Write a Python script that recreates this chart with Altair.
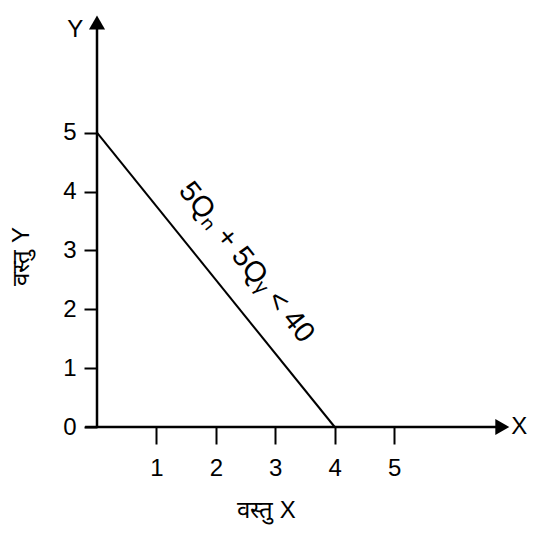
import altair as alt
import pandas as pd

# budget line end points
line_x = [0, 4]
line_y = [5, 0]
x_ticks = [1, 2, 3, 4, 5]
y_ticks = [0, 1, 2, 3, 4, 5]
line_label = "5Qₙ  +  5Qᵧ  <  40"
x_title = "वस्तु X"
y_title = "वस्तु Y"

FONT = "Liberation Sans"
XS = alt.Scale(domain=[0, 7], nice=False, zero=False)
YS = alt.Scale(domain=[0, 7.05], nice=False, zero=False)

line_df = pd.DataFrame({"x": line_x, "y": line_y})

base_axes = alt.Chart(pd.DataFrame({"x": [0], "y": [0]})).mark_point(opacity=0).encode(
    x=alt.X("x:Q", scale=XS,
            axis=alt.Axis(values=x_ticks, domain=False, grid=False, title=None,
                          tickSize=17, tickColor="black", tickWidth=2,
                          labelFont=FONT, labelFontSize=24, labelColor="black",
                          labelPadding=12, format="d")),
    y=alt.Y("y:Q", scale=YS,
            axis=alt.Axis(values=y_ticks, domain=False, grid=False, title=None,
                          tickSize=13, tickColor="black", tickWidth=2,
                          labelFont=FONT, labelFontSize=24, labelColor="black",
                          labelPadding=8, format="d")),
)

xaxis_line = alt.Chart(pd.DataFrame({"x": [-0.2], "x2": [6.8], "y": [0]})).mark_rule(
    color="black", strokeWidth=2.5).encode(
    x=alt.X("x:Q", scale=XS), x2="x2:Q", y=alt.Y("y:Q", scale=YS))
yaxis_line = alt.Chart(pd.DataFrame({"x": [0], "y": [0], "y2": [6.85]})).mark_rule(
    color="black", strokeWidth=2.5).encode(
    x=alt.X("x:Q", scale=XS), y=alt.Y("y:Q", scale=YS), y2="y2:Q")

arrow_x = alt.Chart(pd.DataFrame({"x": [6.82], "y": [0]})).mark_point(
    shape="triangle-right", filled=True, color="black", opacity=1, size=260).encode(
    x=alt.X("x:Q", scale=XS), y=alt.Y("y:Q", scale=YS))
arrow_y = alt.Chart(pd.DataFrame({"x": [0], "y": [6.87]})).mark_point(
    shape="triangle-up", filled=True, color="black", opacity=1, size=260).encode(
    x=alt.X("x:Q", scale=XS), y=alt.Y("y:Q", scale=YS))

budget = alt.Chart(line_df).mark_line(color="black", strokeWidth=2).encode(
    x=alt.X("x:Q", scale=XS), y=alt.Y("y:Q", scale=YS))

label = alt.Chart(pd.DataFrame({"x": [2.52], "y": [2.8], "t": [line_label]})).mark_text(
    angle=51, font=FONT, fontSize=29, color="black").encode(
    x=alt.X("x:Q", scale=XS), y=alt.Y("y:Q", scale=YS), text="t:N")

end_labels = alt.Chart(pd.DataFrame({"x": [6.97, -0.5], "y": [0, 6.75], "t": ["X", "Y"]})).mark_text(
    font=FONT, fontSize=24, color="black", align="left", baseline="middle").encode(
    x=alt.X("x:Q", scale=XS), y=alt.Y("y:Q", scale=YS), text="t:N")

xt = alt.Chart(pd.DataFrame({"x": [2.85], "y": [-1.42], "t": [x_title]})).mark_text(
    font=FONT, fontSize=24, color="black").encode(
    x=alt.X("x:Q", scale=XS), y=alt.Y("y:Q", scale=YS), text="t:N")
yt = alt.Chart(pd.DataFrame({"x": [-1.27], "y": [2.9], "t": [y_title]})).mark_text(
    font=FONT, fontSize=24, color="black", angle=270).encode(
    x=alt.X("x:Q", scale=XS), y=alt.Y("y:Q", scale=YS), text="t:N")

chart = alt.layer(base_axes, xaxis_line, yaxis_line, arrow_x, arrow_y, budget, label,
                  end_labels, xt, yt).properties(
    width=416, height=415,
    autosize=alt.AutoSizeParams(type="none"),
    padding={"left": 89, "top": 4, "right": 18, "bottom": 100},
).configure(background="white").configure_view(stroke=None)

chart.save("out.html", embed_options={"renderer": "svg", "actions": False})
